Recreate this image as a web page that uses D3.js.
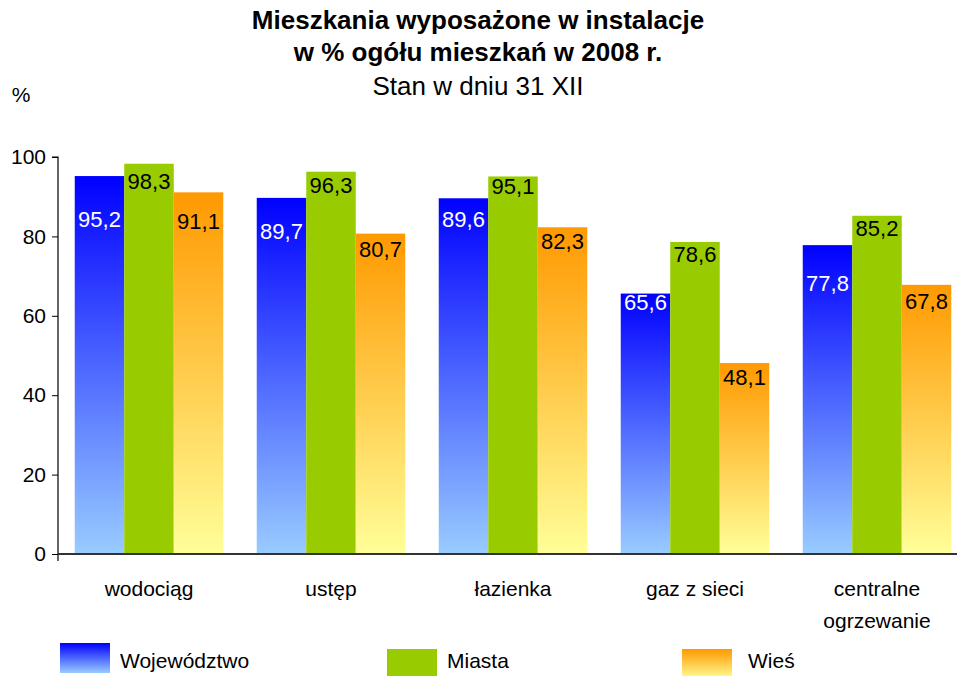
<!DOCTYPE html>
<html>
<head>
<meta charset="utf-8">
<script src="https://cdn.jsdelivr.net/npm/d3@7/dist/d3.min.js"></script>
<style>
body { margin: 0; background: #fff; }
svg { display: block; font-family: Arial, "Liberation Sans", sans-serif; }
</style>
</head>
<body>
<svg id="chart" width="957" height="676"></svg>
<script>
const categories = ["wodociąg", "ustęp", "łazienka", "gaz z sieci", "centralne ogrzewanie"];
const seriesNames = ["Województwo", "Miasta", "Wieś"];
const wojewodztwo = [95.2, 89.7, 89.6, 65.6, 77.8];
const miasta = [98.3, 96.3, 95.1, 78.6, 85.2];
const wies = [91.1, 80.7, 82.3, 48.1, 67.8];
const yTicks = [0, 20, 40, 60, 80, 100];
const titleLines = ["Mieszkania wyposażone w instalacje", "w % ogółu mieszkań w 2008 r."];
const subtitle = "Stan w dniu 31 XII";

// label vertical offsets (px below bar top) — styling only
const labelOffsets = [
  [43, 33, 21, 9, 38],
  [18, 14, 10, 12, 13],
  [29, 16, 14, 14, 16]
];

const seriesValues = [wojewodztwo, miasta, wies];

const svg = d3.select("#chart");
const defs = svg.append("defs");
function grad(id, top, bottom) {
  const g = defs.append("linearGradient").attr("id", id)
    .attr("x1", 0).attr("y1", 0).attr("x2", 0).attr("y2", 1);
  g.append("stop").attr("offset", 0).attr("stop-color", top);
  g.append("stop").attr("offset", 1).attr("stop-color", bottom);
}
grad("gBlue", "#0000ff", "#99ccff");
grad("gOrange", "#ff9900", "#ffff99");
const fills = ["url(#gBlue)", "#99cc00", "url(#gOrange)"];
const labelColors = ["#ffffff", "#000000", "#000000"];

const x0 = d3.scaleBand().domain(categories).range([58, 968])
  .paddingInner(0.184).paddingOuter(0.092);
const x1 = d3.scaleBand().domain(seriesNames).range([0, x0.bandwidth()]);
const y = d3.scaleLinear().domain([0, 100]).range([554, 157]);

// title
svg.append("text").attr("x", 478).attr("y", 29).attr("text-anchor", "middle")
  .attr("font-size", 26).attr("font-weight", "bold").text(titleLines[0]);
svg.append("text").attr("x", 478).attr("y", 61).attr("text-anchor", "middle")
  .attr("font-size", 26).attr("font-weight", "bold").text(titleLines[1]);
svg.append("text").attr("x", 478).attr("y", 95).attr("text-anchor", "middle")
  .attr("font-size", 26).text(subtitle);
svg.append("text").attr("x", 21).attr("y", 102).attr("text-anchor", "middle")
  .attr("font-size", 21).text("%");

// bars
seriesNames.forEach((s, si) => {
  const vals = seriesValues[si];
  const g = svg.append("g");
  g.selectAll("rect").data(categories).join("rect")
    .attr("x", (c) => x0(c) + x1(s))
    .attr("y", (c, i) => y(vals[i]))
    .attr("width", x1.bandwidth())
    .attr("height", (c, i) => y(0) - y(vals[i]))
    .attr("fill", fills[si]);
  g.selectAll("text").data(categories).join("text")
    .attr("x", (c) => x0(c) + x1(s) + x1.bandwidth() / 2)
    .attr("y", (c, i) => y(vals[i]) + labelOffsets[si][i])
    .attr("dy", "0.35em")
    .attr("text-anchor", "middle")
    .attr("font-size", 22)
    .attr("fill", labelColors[si])
    .text((c, i) => d3.format(".1f")(vals[i]).replace(".", ","));
});

// y axis
const yAxis = d3.axisLeft(y).tickValues(yTicks).tickSize(6).tickPadding(6)
  .tickFormat(d3.format("d"));
const ya = svg.append("g").attr("transform", "translate(58,0)").call(yAxis);
ya.select(".domain").attr("stroke", "#000").attr("stroke-width", 1.2)
  .attr("d", `M-6,${y(100)}H0V${y(0) + 7}`);
ya.selectAll(".tick line").attr("stroke", "#000");
ya.selectAll(".tick text").attr("font-size", 21).attr("font-family", "Arial, 'Liberation Sans', sans-serif").attr("fill", "#000");

// x axis line
svg.append("line").attr("x1", 58).attr("x2", 957).attr("y1", y(0)).attr("y2", y(0))
  .attr("stroke", "#333").attr("stroke-width", 2);

// x labels
categories.forEach((c) => {
  const words = c === "centralne ogrzewanie" ? ["centralne", "ogrzewanie"] : [c];
  words.forEach((w, wi) => {
    svg.append("text").attr("x", x0(c) + x0.bandwidth() / 2)
      .attr("y", 596 + wi * 32).attr("text-anchor", "middle")
      .attr("font-size", 21).text(w);
  });
});

// legend
const legendX = [60, 387, 682];
const legendTextX = [120, 447, 748];
const legendBoxY = [643, 649, 649];
seriesNames.forEach((s, i) => {
  svg.append("rect").attr("x", legendX[i]).attr("y", legendBoxY[i])
    .attr("width", 50).attr("height", 30).attr("fill", fills[i]);
  svg.append("text").attr("x", legendTextX[i]).attr("y", 668)
    .attr("font-size", 21).text(s);
});
</script>
</body>
</html>
